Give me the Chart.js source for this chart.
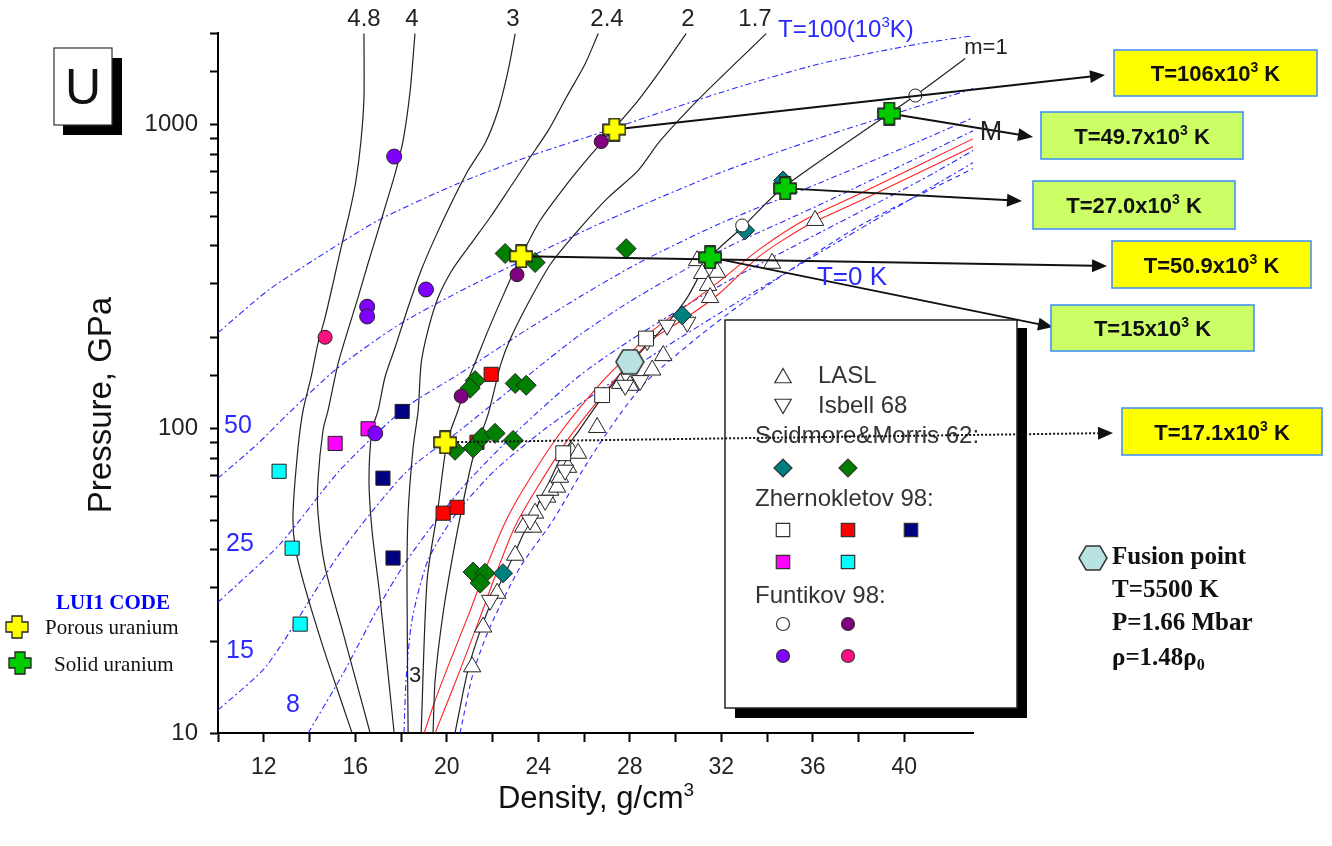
<!DOCTYPE html>
<html>
<head>
<meta charset="utf-8">
<script src="https://cdn.jsdelivr.net/npm/chart.js@4.4.1/dist/chart.umd.min.js"></script>
<style>
  html, body { margin: 0; padding: 0; background: #fff; }
  canvas { display: block; }
</style>
</head>
<body>
<canvas id="chart" width="1332" height="846"></canvas>
<script>
// ---- data: [density g/cm3, pressure GPa] ----
// porous Hugoniots, m = rho0 / rho00
const hugM48 = [[16.38,1991],[16.38,1227],[16.25,885],[16.03,655],[15.77,522],[15.38,394],[15.03,301],[14.68,232],[14.37,191],[14.07,148],[13.72,115],[13.50,87],[13.28,52.8],[13.37,40.9],[13.80,30.1],[14.59,19.2],[15.47,12.2],[15.86,10]];
const hugM4 = [[18.61,1991],[18.40,1294],[18.09,885],[17.74,690],[17.35,550],[17.00,449],[16.56,350],[16.12,270],[15.68,211],[15.25,164],[14.81,115],[14.59,98.9],[14.37,67.7],[14.37,52.8],[14.68,35.1],[15.47,21.3],[16.65,10]];
const hugM3 = [[22.99,1991],[22.68,1504],[22.24,1112],[21.67,866],[20.93,706],[20.19,550],[19.49,425],[18.88,332],[18.31,251],[17.74,185],[17.30,148],[17.00,115],[16.73,98.9],[16.60,67.7],[16.73,46.5],[17.08,28.0],[17.70,10]];
const hugM24 = [[26.62,1991],[26.05,1585],[25.22,1227],[24.43,955],[23.55,762],[22.68,607],[21.89,495],[21.06,406],[20.23,332],[19.62,270],[19.18,211],[18.88,164],[18.75,115],[18.53,87],[18.31,52.8],[18.26,31.8],[18.31,10]];
const hugM2 = [[30.46,1991],[29.33,1504],[28.36,1199],[27.23,955],[26.27,791],[25.30,645],[24.08,484],[23.25,369],[22.46,274],[21.81,211],[21.24,165],[20.84,139],[20.49,115],[20.01,90.3],[19.62,55.2],[19.14,31.8],[18.88,10]];
const hugM17 = [[33.96,1991],[31.08,1227],[29.33,885],[28.36,706],[27.05,575],[25.74,449],[24.56,350],[23.69,270],[22.81,200],[22.37,164],[21.81,112],[21.15,80.6],[20.67,55.2],[20.28,39.0],[19.84,24.8],[19.49,14.9],[19.40,10]];
const hugM1 = [[42.66,1648],[40.48,1246],[39.34,1087],[34.70,621],[32.91,459],[31.51,366],[30.51,270],[29.63,222],[28.45,178],[27.58,150],[26.70,124],[25.83,100],[25.09,83.1],[24.30,62.8],[23.51,47.9],[22.77,36.2],[21.98,27.3],[21.32,20.2],[20.89,15.7],[20.36,10]];
// red double curve (M)
const curveM1 = [[43.01,899],[38.07,593],[35.75,491],[33.70,391],[31.95,307],[30.51,255],[29.02,211],[28.15,181],[26.83,144],[25.09,100],[23.64,68.8],[22.64,50.8],[21.76,35.6],[21.02,25.2],[20.14,17.2],[19.49,12.8],[19.01,10]];
const curveM2 = [[43.01,847],[38.07,562],[35.75,466],[33.70,371],[31.95,280],[30.51,233],[29.02,198],[28.15,170],[27.05,136],[25.39,94.4],[23.99,64.7],[22.99,47.9],[22.16,33.5],[21.41,23.5],[20.58,16.1],[19.93,12.1],[19.49,10]];
// isotherms, T in 10^3 K
const iso100 = [[10,207],[12.19,285],[14.37,366],[17.0,484],[20.49,640],[23.69,791],[26.75,942],[31.95,1273],[36.32,1585],[40.7,1845],[43.01,1959]];
const iso50 = [[10,68.8],[11.71,88.9],[13.06,112],[15.12,156],[17.87,219],[20.49,281],[23.12,352],[26.05,449],[27.58,506],[31.95,695],[36.32,906],[40.7,1155],[43.01,1313]];
const iso25 = [[10,26.9],[12.71,41.8],[15.33,73.1],[18.18,117],[20.58,152],[23.12,203],[25.83,272],[28.36,350],[31.95,473],[36.32,644],[40.7,885],[43.01,1054]];
const iso15 = [[10,11.9],[12.14,16.7],[15.33,39.0],[18.18,71.5],[20.58,98.9],[23.12,141],[25.83,204],[28.36,272],[31.95,385],[36.32,546],[40.7,786],[43.01,955]];
const iso8 = [[13.94,10],[15.47,15.7],[16.95,25.4],[18.26,37.0],[20.58,62.8],[23.12,98.9],[25.83,150],[28.36,203],[31.95,296],[36.32,442],[40.7,655],[43.01,822]];
const iso5 = [[18.13,10],[18.22,14.9],[18.48,23.5],[19.18,37.0],[20.36,52.0],[22.11,73.1],[24.30,100],[26.70,134],[29.33,181],[32.82,264],[37.20,416],[43.01,750]];
const iso0 = [[20.58,10],[21.15,15.7],[21.89,22.3],[23.21,35.1],[24.65,50.1],[26.13,77.1],[27.58,112],[28.76,144],[31.08,203],[33.70,285],[38.07,466],[43.01,717]];
// experiments
const laslPts = [[21.11,16.5],[21.59,22.3],[22.20,28.8],[22.99,38.4],[23.34,47.5],[23.77,47.5],[23.86,52.8],[24.39,59.6],[24.52,62.8],[24.82,64.3],[24.95,69.3],[25.30,74.7],[25.48,83.7],[25.74,83.1],[26.57,101],[27.58,141],[28.01,139],[28.98,156],[29.46,174],[30.94,357],[31.16,324],[31.82,327],[31.42,296],[31.51,270],[34.22,350],[36.10,484]];
const isbellPts = [[21.89,27.3],[23.64,50.1],[24.30,58.2],[25.17,73.1],[27.80,139],[28.45,144],[28.76,195],[29.63,219],[30.51,224]];
const smTeal = [[22.46,33.5],[30.29,236],[33.04,449],[34.70,655]];
const smGreen = [[22.55,377],[23.86,352],[27.84,391],[21.24,144],[21.02,136],[22.99,141],[23.47,139],[20.36,85.0],[21.15,86.5],[21.54,93.8],[22.11,96.6],[22.90,91.6],[21.15,33.8],[21.67,33.5],[21.46,31.1]];
const zhWhite = [[26.79,129],[25.09,83.1],[28.71,198]];
const zhRed = [[21.94,151],[21.32,90.3],[19.84,52.8],[20.45,55.2]];
const zhNavy = [[18.05,114],[17.21,68.8],[17.65,37.6]];
const zhMagenta = [[16.56,100],[15.12,89.5]];
const zhCyan = [[12.67,72.5],[13.24,40.5],[13.59,22.8]];
const fuWhite = [[40.48,1246],[32.91,466]];
const fuPurple = [[26.75,879],[23.07,321],[20.63,128]];
const fuViolet = [[17.70,785],[19.09,287],[16.52,252],[16.52,234],[16.87,96.6]];
const fuPink = [[14.68,200]];
// LUI1 code results
const porousU = [[27.32,963],[23.25,369],[19.93,90.3]];
const solidU = [[39.34,1087],[34.79,617],[31.51,366]];
const fusionPt = [[28.0,166]];
// temperatures in 10^3 K written in the call-out boxes
const boxTemps = ['106', '49.7', '27.0', '50.9', '15', '17.1'];
const xLabels = [12, 16, 20, 24, 28, 32, 36, 40];
const yLabels = [10, 100, 1000];

const SANS = '"Liberation Sans", Arial, sans-serif';
const SERIF = '"Liberation Serif", "Times New Roman", serif';

function plusIcon(fill, s) {
  const c = document.createElement('canvas');
  c.width = c.height = s;
  const g = c.getContext('2d');
  const a = Math.round(s * 0.29), b = s - a, p = 1;
  g.beginPath();
  g.moveTo(a, p); g.lineTo(b, p); g.lineTo(b, a); g.lineTo(s - p, a); g.lineTo(s - p, b);
  g.lineTo(b, b); g.lineTo(b, s - p); g.lineTo(a, s - p); g.lineTo(a, b); g.lineTo(p, b);
  g.lineTo(p, a); g.lineTo(a, a); g.closePath();
  g.fillStyle = fill; g.fill();
  g.lineWidth = 1.3; g.strokeStyle = '#222'; g.stroke();
  return c;
}
function hexIcon(fill, w, h) {
  const c = document.createElement('canvas');
  c.width = w; c.height = h;
  const g = c.getContext('2d');
  g.beginPath();
  g.moveTo(w * 0.27, 1); g.lineTo(w * 0.73, 1); g.lineTo(w - 1, h / 2);
  g.lineTo(w * 0.73, h - 1); g.lineTo(w * 0.27, h - 1); g.lineTo(1, h / 2); g.closePath();
  g.fillStyle = fill; g.fill();
  g.lineWidth = 1.5; g.strokeStyle = '#333'; g.stroke();
  return c;
}
const yellowPlus = plusIcon('#ffff00', 24);
const greenPlus = plusIcon('#00cc00', 24);
const fusionHex = hexIcon('#b9e2e2', 30, 26);

function curve(data, color, width, dash) {
  return {
    data: data.map(([x, y]) => ({ x, y })),
    showLine: true, borderColor: color, borderWidth: width, borderDash: dash || [],
    pointRadius: 0, tension: 0.25, order: 10
  };
}
function marks(data, style, radius, fill, extra) {
  return Object.assign({
    data: data.map(([x, y]) => ({ x, y })),
    showLine: false, pointStyle: style, pointRadius: radius,
    pointBackgroundColor: fill, pointBorderColor: '#222', pointBorderWidth: 1, order: 2
  }, extra || {});
}

const DASHDOT = [6, 3, 2, 3];
const BLUE = '#2a2aff';

function rich(ctx, parts, x, y, size, family, weight, align) {
  const f = k => `${weight || 'normal'} ${k ? Math.round(size * 0.62) : size}px ${family}`;
  let total = 0;
  const w = parts.map(([t, k]) => { ctx.font = f(k); const m = ctx.measureText(t).width; total += m; return m; });
  let cx = align === 'center' ? x - total / 2 : align === 'right' ? x - total : x;
  ctx.textAlign = 'left';
  ctx.textBaseline = 'alphabetic';
  parts.forEach(([t, k], i) => {
    ctx.font = f(k);
    ctx.fillText(t, cx, y + (k === 1 ? -size * 0.4 : k === -1 ? size * 0.18 : 0));
    cx += w[i];
  });
}
function arrow(ctx, x1, y1, x2, y2, dotted) {
  const ang = Math.atan2(y2 - y1, x2 - x1), L = 15, W = 6.5;
  ctx.save();
  ctx.strokeStyle = '#111'; ctx.fillStyle = '#111'; ctx.lineWidth = 2;
  ctx.setLineDash(dotted ? [2, 2] : []);
  ctx.beginPath(); ctx.moveTo(x1, y1);
  ctx.lineTo(x2 - L * 0.8 * Math.cos(ang), y2 - L * 0.8 * Math.sin(ang)); ctx.stroke();
  ctx.setLineDash([]);
  ctx.beginPath(); ctx.moveTo(x2, y2);
  ctx.lineTo(x2 - L * Math.cos(ang) + W * Math.sin(ang), y2 - L * Math.sin(ang) - W * Math.cos(ang));
  ctx.lineTo(x2 - L * Math.cos(ang) - W * Math.sin(ang), y2 - L * Math.sin(ang) + W * Math.cos(ang));
  ctx.closePath(); ctx.fill();
  ctx.restore();
}

// call-out layout: box rect, arrow tip, source point
const callouts = [
  { from: porousU[0], fill: '#ffff00', box: [1114, 50, 203, 46], tip: [1105, 75] },
  { from: solidU[0], fill: '#ccff66', box: [1041, 112, 202, 47], tip: [1033, 137] },
  { from: solidU[1], fill: '#ccff66', box: [1033, 181, 202, 48], tip: [1022, 201] },
  { from: porousU[1], fill: '#ffff00', box: [1112, 241, 199, 47], tip: [1107, 266] },
  { from: solidU[2], fill: '#ccff66', box: [1051, 305, 203, 46], tip: [1053, 327] },
  { from: porousU[2], fill: '#ffff00', box: [1122, 408, 200, 47], tip: [1113, 433], dotted: true }
];

const extras = {
  id: 'extras',
  afterDatasetsDraw(chart) {
    const { ctx, scales: { x, y } } = chart;
    const px = p => [x.getPixelForValue(p[0]), y.getPixelForValue(p[1])];
    const H = Chart.helpers;
    ctx.save();

    // legend box with shadow
    ctx.fillStyle = '#000';
    ctx.fillRect(735, 328, 292, 390);
    ctx.fillStyle = '#fff';
    ctx.fillRect(725, 320, 292, 388);
    ctx.strokeStyle = '#222'; ctx.lineWidth = 1.5;
    ctx.strokeRect(725, 320, 292, 388);

    const sym = (style, fill, r, sx, sy, rot) => {
      ctx.fillStyle = fill; ctx.strokeStyle = '#333'; ctx.lineWidth = 1.2;
      H.drawPoint(ctx, { pointStyle: style, radius: r, rotation: rot || 0, borderWidth: 1.2 }, sx, sy);
    };
    ctx.fillStyle = '#333';
    ctx.font = `24px ${SANS}`;
    ctx.textAlign = 'left'; ctx.textBaseline = 'middle';
    ctx.fillText('LASL', 818, 376);
    ctx.fillText('Isbell 68', 818, 406);
    ctx.fillText('Scidmore&Morris 62:', 755, 436);
    ctx.fillText('Zhernokletov 98:', 755, 499);
    ctx.fillText('Funtikov 98:', 755, 596);
    sym('triangle', '#fff', 9.5, 783, 378);
    sym('triangle', '#fff', 9.5, 783, 404, 180);
    sym('rectRot', '#007f80', 9, 783, 468);
    sym('rectRot', '#007f00', 9, 848, 468);
    sym('rect', '#fff', 9.5, 783, 530);
    sym('rect', '#ff0000', 9.5, 848, 530);
    sym('rect', '#000080', 9.5, 911, 530);
    sym('rect', '#ff00ff', 9.5, 783, 562);
    sym('rect', '#00ffff', 9.5, 848, 562);
    sym('circle', '#fff', 6.5, 783, 624);
    sym('circle', '#800080', 6.5, 848, 624);
    sym('circle', '#8000ff', 6.5, 783, 656);
    sym('circle', '#ff1080', 6.5, 848, 656);

    // call-out arrows and boxes
    callouts.forEach((c, i) => {
      const [sx, sy] = px(c.from);
      arrow(ctx, sx, sy, c.tip[0], c.tip[1], c.dotted);
      const [bx, by, bw, bh] = c.box;
      ctx.fillStyle = c.fill; ctx.fillRect(bx, by, bw, bh);
      ctx.strokeStyle = '#3a8cff'; ctx.lineWidth = 1.5; ctx.strokeRect(bx, by, bw, bh);
      ctx.fillStyle = '#111';
      rich(ctx, [['T=' + boxTemps[i] + 'x10', 0], ['3', 1], [' K', 0]], bx + bw / 2, by + bh / 2 + 8, 22, SANS, 'bold', 'center');
    });
    // code markers on top of arrows
    porousU.forEach(p => { const [a, b] = px(p); ctx.drawImage(yellowPlus, a - 12, b - 12); });
    solidU.forEach(p => { const [a, b] = px(p); ctx.drawImage(greenPlus, a - 12, b - 12); });

    // curve labels
    ctx.fillStyle = '#222';
    ctx.font = `24px ${SANS}`;
    ctx.textAlign = 'center'; ctx.textBaseline = 'middle';
    [['4.8', 364], ['4', 412], ['3', 513], ['2.4', 607], ['2', 688], ['1.7', 755]].forEach(([t, lx]) => ctx.fillText(t, lx, 19));
    ctx.font = `22px ${SANS}`;
    ctx.fillText('m=1', 986, 48);
    ctx.fillText('3', 415, 676);
    ctx.font = `27px ${SANS}`;
    ctx.fillText('M', 991, 133);

    ctx.fillStyle = BLUE;
    rich(ctx, [['T=100(10', 0], ['3', 1], ['K)', 0]], 778, 37, 24, SANS, 'normal', 'left');
    ctx.font = `25px ${SANS}`;
    ctx.textAlign = 'center'; ctx.textBaseline = 'middle';
    ctx.fillText('50', 238, 426);
    ctx.fillText('25', 240, 544);
    ctx.fillText('15', 240, 651);
    ctx.fillText('8', 293, 705);
    ctx.font = `26px ${SANS}`;
    ctx.fillText('T=0 K', 852, 278);

    // element box "U"
    ctx.fillStyle = '#000'; ctx.fillRect(63, 58, 59, 77);
    ctx.fillStyle = '#fff'; ctx.fillRect(54, 48, 58, 77);
    ctx.strokeStyle = '#333'; ctx.lineWidth = 1.2; ctx.strokeRect(54, 48, 58, 77);
    ctx.fillStyle = '#111'; ctx.font = `50px ${SANS}`;
    ctx.textAlign = 'center'; ctx.textBaseline = 'alphabetic';
    ctx.fillText('U', 83, 104);

    // LUI1 legend
    ctx.textBaseline = 'middle';
    ctx.fillStyle = '#0000ff';
    ctx.font = `bold 21px ${SERIF}`;
    ctx.fillText('LUI1 CODE', 113, 604);
    ctx.drawImage(yellowPlus, 5, 615);
    ctx.drawImage(greenPlus, 8, 651);
    ctx.fillStyle = '#111';
    ctx.font = `21px ${SERIF}`;
    ctx.textAlign = 'left';
    ctx.fillText('Porous uranium', 45, 628);
    ctx.fillText('Solid uranium', 54, 665);

    // fusion point legend
    ctx.drawImage(fusionHex, 1078, 545);
    ctx.font = `bold 25px ${SERIF}`;
    ctx.fillText('Fusion point', 1112, 558);
    ctx.fillText('T=5500 K', 1112, 591);
    ctx.fillText('P=1.66 Mbar', 1112, 624);
    rich(ctx, [['ρ=1.48ρ', 0], ['0', -1]], 1112, 665, 25, SERIF, 'bold', 'left');

    // axis titles
    ctx.fillStyle = '#111';
    rich(ctx, [['Density, g/cm', 0], ['3', 1]], 596, 808, 31, SANS, 'normal', 'center');
    ctx.save();
    ctx.translate(102, 405); ctx.rotate(-Math.PI / 2);
    ctx.font = `33px ${SANS}`;
    ctx.textAlign = 'center'; ctx.textBaseline = 'middle';
    ctx.fillText('Pressure, GPa', 0, 0);
    ctx.restore();

    ctx.restore();
  }
};

new Chart(document.getElementById('chart').getContext('2d'), {
  type: 'scatter',
  data: {
    datasets: [
      marks(fusionPt, fusionHex, 13, '#b9e2e2'),
      marks(porousU, yellowPlus, 12, '#ffff00'),
      marks(solidU, greenPlus, 12, '#00cc00'),
      marks(fuWhite, 'circle', 6.5, '#ffffff'),
      marks(fuPurple, 'circle', 7, '#800080'),
      marks(fuViolet, 'circle', 7.5, '#8000ff'),
      marks(fuPink, 'circle', 7, '#ff1080'),
      marks(smTeal, 'rectRot', 9.5, '#007f80'),
      marks(smGreen, 'rectRot', 10, '#007f00'),
      marks(zhWhite, 'rect', 10.5, '#ffffff'),
      marks(zhRed, 'rect', 10, '#ff0000'),
      marks(zhNavy, 'rect', 10, '#000080'),
      marks(zhMagenta, 'rect', 10, '#ff00ff'),
      marks(zhCyan, 'rect', 10, '#00ffff'),
      marks(isbellPts, 'triangle', 10, '#ffffff', { pointRotation: 180 }),
      marks(laslPts, 'triangle', 10, '#ffffff'),
      curve(hugM1, '#222', 1.2),
      curve(hugM17, '#222', 1.2),
      curve(hugM2, '#222', 1.2),
      curve(hugM24, '#222', 1.2),
      curve(hugM3, '#222', 1.2),
      curve(hugM4, '#222', 1.2),
      curve(hugM48, '#222', 1.2),
      curve(curveM1, '#ff2020', 1.1),
      curve(curveM2, '#ff2020', 1.1),
      curve(iso100, BLUE, 1.1, DASHDOT),
      curve(iso50, BLUE, 1.1, DASHDOT),
      curve(iso25, BLUE, 1.1, DASHDOT),
      curve(iso15, BLUE, 1.1, DASHDOT),
      curve(iso8, BLUE, 1.1, DASHDOT),
      curve(iso5, BLUE, 1.1, DASHDOT),
      curve(iso0, BLUE, 1.1, [5, 4])
    ]
  },
  options: {
    responsive: false,
    animation: false,
    events: [],
    layout: { padding: { top: 33, right: 359, left: 0, bottom: 0 } },
    plugins: { legend: { display: false }, tooltip: { enabled: false } },
    scales: {
      x: {
        type: 'linear', min: 10, max: 43,
        afterFit: s => { s.height = 113; },
        border: { display: true, color: '#000', width: 2 },
        grid: {
          display: true, drawOnChartArea: false, drawTicks: true, tickLength: 9, tickWidth: 2,
          tickColor: c => (c.tick && c.tick.value % 2 === 0) ? '#000' : 'rgba(0,0,0,0)'
        },
        ticks: {
          stepSize: 2, autoSkip: false, maxRotation: 0, padding: 12, color: '#222',
          font: { family: SANS, size: 23 },
          callback: v => xLabels.includes(v) ? String(v) : ''
        }
      },
      y: {
        type: 'logarithmic', min: 10, max: 2000,
        afterFit: s => { s.width = 218; },
        border: { display: true, color: '#000', width: 2 },
        grid: { display: true, drawOnChartArea: false, drawTicks: true, tickLength: 8, tickWidth: 2, tickColor: '#000' },
        ticks: {
          autoSkip: false, padding: 12, color: '#222',
          font: { family: SANS, size: 24 },
          callback: v => yLabels.includes(v) ? String(v) : ''
        }
      }
    }
  },
  plugins: [extras]
});
</script>
</body>
</html>
